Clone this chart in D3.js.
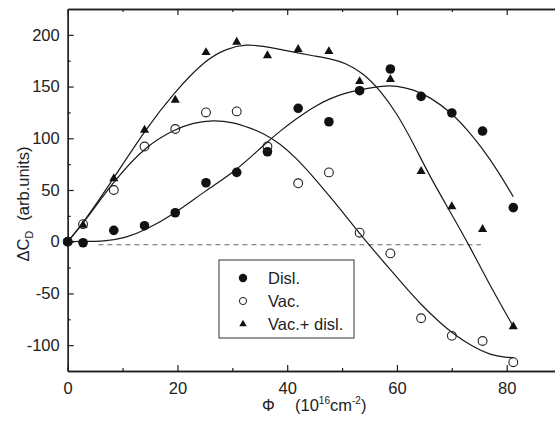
<!DOCTYPE html>
<html>
<head>
<meta charset="utf-8">
<script src="https://cdn.jsdelivr.net/npm/d3@7"></script>
<style>
  body { margin: 0; background: #fff; }
  svg { display: block; }
  text { font-family: "Liberation Sans", Arial, sans-serif; fill: #222; }
</style>
</head>
<body>
<svg id="chart" width="555" height="422"></svg>
<script>
// measured points (fluence in 1e16 cm^-2)
const phi = [0, 2.8, 8.4, 14, 19.6, 25.2, 30.8, 36.4, 42, 47.6, 53.2, 58.8, 64.4, 70, 75.6, 81.2];
const disl = [0, -1, 11, 15.5, 28, 57, 67, 87, 129, 116, 146, 167, 140.5, 124.5, 107, 33];
const vac = [0, 17, 50, 92, 109, 125, 126, 92, 56.5, 67, 8.7, -11.3, -74, -91, -96, -116.5];
const vacDisl = [0, 16, 61, 108, 137, 183, 193, 180, 186, 184, 155, 157, 68, 34, 12, -82];

// fitted curves
const dislFit = [[0, 0], [2.8, 0.5], [6.5, 0], [10.7, 4], [14.1, 11], [19.5, 27], [25, 49], [30.8, 69],
  [35.6, 93], [38.7, 107], [41.7, 119], [44.7, 130], [47.8, 138.6], [50.8, 144], [53.3, 147],
  [56.9, 150.5], [60, 151], [63, 147], [66, 140], [70, 124.5], [73, 107], [75.6, 90], [78.2, 70], [81.2, 43.5]];
const vacFit = [[0, 0], [2.8, 17.5], [8.6, 60], [14.1, 92], [19.5, 108.7], [22.9, 115], [26.5, 117.6],
  [30.2, 115.5], [33.2, 110], [35.6, 105], [38.7, 95], [41.7, 80.6], [44.7, 63], [47.8, 43.5],
  [50.8, 24], [53.9, 3.3], [57.5, -19], [61.2, -42], [64.4, -61], [67.8, -78], [70, -88],
  [73.9, -102], [77, -109.5], [80, -112], [81.2, -112]];
const vacDislFit = [[0, 0], [2.8, 17.8], [8.6, 63], [14.1, 108], [19.5, 145], [25, 175.5], [29, 187],
  [32.6, 191], [35.6, 189], [38.7, 186], [41.7, 182.8], [44.7, 179.8], [47.8, 177], [50.8, 172.5],
  [53.9, 162.8], [56.9, 146.7], [60, 124], [63, 95], [66, 63], [69.7, 29], [73.3, -4.8], [76.4, -37], [81.2, -82]];

const xMajor = [0, 20, 40, 60, 80];
const xMinor = [10, 30, 50, 70];
const yMajor = [-100, -50, 0, 50, 100, 150, 200];
const yMinor = [-75, -25, 25, 75, 125, 175];
const baseline = { y: -3, from: 5.6, to: 75.3 };
const legendLabels = ["Disl.", "Vac.", "Vac.+ disl."];

const width = 555, height = 422;
const svg = d3.select("#chart");

const x = d3.scaleLinear().domain([0, 88.8]).range([67.7, 555]);
const y = d3.scaleLinear().domain([-125, 225]).range([371, 9]);

const axisColor = "#1e1e1e";
const plain = d => String(d); // hyphen minus, as in the original

function drawAxis(axis, transform) {
  const g = svg.append("g").attr("transform", transform).call(axis);
  g.select(".domain").attr("stroke", axisColor).attr("stroke-width", 1.3);
  g.selectAll(".tick line").attr("stroke", axisColor).attr("stroke-width", 1.2);
  g.selectAll(".tick text").attr("font-size", 16.5).attr("fill", "#222")
    .attr("font-family", "'Liberation Sans', Arial, sans-serif");
  return g;
}

// bottom axis
drawAxis(d3.axisBottom(x).tickValues(xMajor).tickFormat(plain).tickSizeInner(-6).tickSizeOuter(0).tickPadding(11),
  `translate(0,${y(-125)})`);
drawAxis(d3.axisBottom(x).tickValues(xMinor).tickSizeInner(-3).tickSizeOuter(0).tickFormat(""),
  `translate(0,${y(-125)})`);
// top axis
drawAxis(d3.axisTop(x).tickValues(xMajor).tickSizeInner(-6).tickSizeOuter(0).tickFormat(""),
  `translate(0,${y(225)})`);
drawAxis(d3.axisTop(x).tickValues(xMinor).tickSizeInner(-3).tickSizeOuter(0).tickFormat(""),
  `translate(0,${y(225)})`);
// left axis
drawAxis(d3.axisLeft(y).tickValues(yMajor).tickFormat(plain).tickSizeInner(-6).tickSizeOuter(0).tickPadding(8),
  `translate(${x(0)},0)`);
drawAxis(d3.axisLeft(y).tickValues(yMinor).tickSizeInner(-3).tickSizeOuter(0).tickFormat(""),
  `translate(${x(0)},0)`);

// zero reference
svg.append("line")
  .attr("x1", x(baseline.from)).attr("x2", x(baseline.to))
  .attr("y1", y(baseline.y)).attr("y2", y(baseline.y))
  .attr("stroke", "#666").attr("stroke-width", 1.1).attr("stroke-dasharray", "5,4");

// fitted curves
const line = d3.line().x(d => x(d[0])).y(d => y(d[1])).curve(d3.curveBasis);
[dislFit, vacFit, vacDislFit].forEach(fit => {
  svg.append("path").datum(fit)
    .attr("d", line)
    .attr("fill", "none")
    .attr("stroke", "#1a1a1a")
    .attr("stroke-width", 1.2);
});

// markers
const tri = d3.symbol().type(d3.symbolTriangle).size(36);

svg.append("g").selectAll("circle")
  .data(phi.map((p, i) => [p, disl[i]]))
  .join("circle")
  .attr("cx", d => x(d[0])).attr("cy", d => y(d[1]))
  .attr("r", 4.8).attr("fill", "#111");

svg.append("g").selectAll("circle")
  .data(phi.map((p, i) => [p, vac[i]]))
  .join("circle")
  .attr("cx", d => x(d[0])).attr("cy", d => y(d[1]))
  .attr("r", 4.4).attr("fill", "none").attr("stroke", "#222").attr("stroke-width", 1.1);

svg.append("g").selectAll("path")
  .data(phi.map((p, i) => [p, vacDisl[i]]))
  .join("path")
  .attr("d", tri)
  .attr("transform", d => `translate(${x(d[0])},${y(d[1])})`)
  .attr("fill", "#111");

// legend
const legend = svg.append("g").attr("transform", "translate(219,260)");
legend.append("rect")
  .attr("width", 135).attr("height", 78)
  .attr("fill", "#fff").attr("stroke", "#333").attr("stroke-width", 1);

const rows = legend.selectAll("g.row")
  .data(legendLabels)
  .join("g")
  .attr("class", "row")
  .attr("transform", (d, i) => `translate(0,${18 + i * 23})`);

rows.each(function(d, i) {
  const r = d3.select(this);
  if (i === 0) r.append("circle").attr("cx", 24).attr("r", 4.2).attr("fill", "#111");
  if (i === 1) r.append("circle").attr("cx", 24).attr("r", 3.6).attr("fill", "none")
    .attr("stroke", "#222").attr("stroke-width", 1);
  if (i === 2) r.append("path").attr("d", d3.symbol().type(d3.symbolTriangle).size(24))
    .attr("transform", "translate(24,0)").attr("fill", "#111");
});

rows.append("text")
  .attr("x", 49).attr("y", 6)
  .attr("font-size", 16.5)
  .text(d => d);

// y label
const yl = svg.append("text")
  .attr("transform", "translate(29,204) rotate(-90)")
  .attr("text-anchor", "middle")
  .attr("font-size", 16.5);
yl.append("tspan").text("ΔC");
yl.append("tspan").attr("font-size", 11).attr("dy", 4).text("D");
yl.append("tspan").attr("dy", -4).attr("dx", 10).text("(arb.units)");

// x label
svg.append("text")
  .attr("x", 262).attr("y", 411)
  .attr("font-family", "'Liberation Serif', 'Times New Roman', serif")
  .attr("font-size", 16)
  .text("Φ");
const xl = svg.append("text")
  .attr("x", 295).attr("y", 411)
  .attr("font-size", 16.5);
xl.append("tspan").text("(10");
xl.append("tspan").attr("font-size", 10).attr("dy", -7).text("16");
xl.append("tspan").attr("dy", 7).text("cm");
xl.append("tspan").attr("font-size", 10).attr("dy", -7).text("-2");
xl.append("tspan").attr("dy", 7).text(")");
</script>
</body>
</html>
